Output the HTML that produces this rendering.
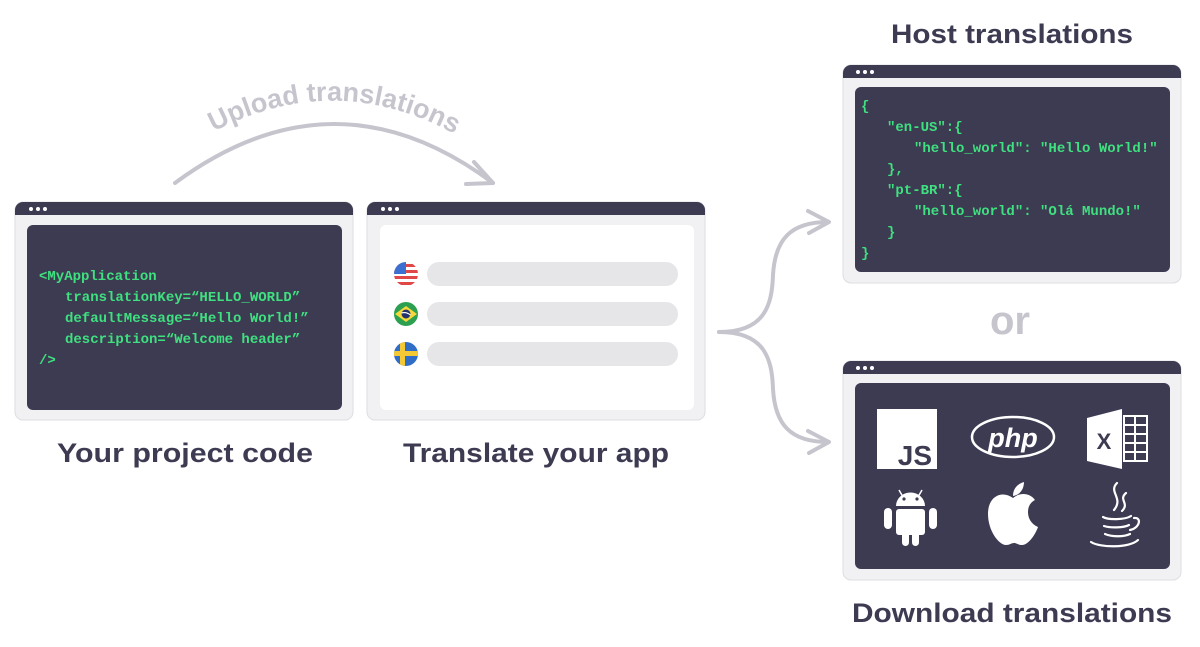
<!DOCTYPE html>
<html><head><meta charset="utf-8"><style>
html,body{margin:0;padding:0;background:#fff;}
svg{display:block;}
.t{font-family:"Liberation Sans",sans-serif;font-weight:bold;fill:#3d3b52;}
.c{font-family:"Liberation Mono","DejaVu Sans Mono",monospace;font-weight:bold;fill:#3ee07f;font-size:14px;}
</style></head><body>
<svg width="1200" height="647" viewBox="0 0 1200 647">
<defs>
<path id="up" d="M190,145 Q335,55 478,148"/>
<clipPath id="c1"><circle cx="406" cy="274" r="12"/></clipPath>
<clipPath id="c3"><circle cx="406" cy="354" r="12"/></clipPath>
</defs>
<text class="t" x="1012" y="43" font-size="27" text-anchor="middle" textLength="242" lengthAdjust="spacingAndGlyphs">Host translations</text>
<text class="t" x="185" y="462" font-size="27" text-anchor="middle" textLength="256" lengthAdjust="spacingAndGlyphs">Your project code</text>
<text class="t" x="536" y="462" font-size="27" text-anchor="middle" textLength="266" lengthAdjust="spacingAndGlyphs">Translate your app</text>
<text class="t" x="1012" y="622" font-size="27" text-anchor="middle" textLength="320" lengthAdjust="spacingAndGlyphs">Download translations</text>
<text x="1010" y="334" font-size="40" font-family="Liberation Sans,sans-serif" font-weight="bold" fill="#c6c5ce" text-anchor="middle">or</text>

<path d="M175,183 Q335,65 493,183" fill="none" stroke="#c6c5ce" stroke-width="4" stroke-linecap="round"/>
<path d="M474,162 L493,183 L466,184" fill="none" stroke="#c6c5ce" stroke-width="4" stroke-linecap="round" stroke-linejoin="round"/>
<text font-family="Liberation Sans,sans-serif" font-weight="bold" font-size="27" fill="#c6c5ce"><textPath href="#up" startOffset="50%" text-anchor="middle">Upload translations</textPath></text>

<path d="M719,332 C765,332 772,305 773,275 C775,240 790,222 828,222" fill="none" stroke="#c6c5ce" stroke-width="4" stroke-linecap="round"/>
<path d="M719,332 C765,332 772,359 773,389 C775,424 790,442 828,442" fill="none" stroke="#c6c5ce" stroke-width="4" stroke-linecap="round"/>
<path d="M808,211 L829,222 L809,233" fill="none" stroke="#c6c5ce" stroke-width="4" stroke-linecap="round" stroke-linejoin="round"/>
<path d="M808,431 L829,442 L809,453" fill="none" stroke="#c6c5ce" stroke-width="4" stroke-linecap="round" stroke-linejoin="round"/>

<g>
<rect x="15" y="202" width="338" height="218" rx="8" fill="#f1f1f3" stroke="#dedee2"/>
<path d="M15,215 V210 a8,8 0 0 1 8,-8 H345 a8,8 0 0 1 8,8 V215 Z" fill="#3d3b52"/>
<circle cx="31" cy="209" r="2" fill="#fff"/><circle cx="38" cy="209" r="2" fill="#fff"/><circle cx="45" cy="209" r="2" fill="#fff"/>
<rect x="27" y="225" width="315" height="185" rx="6" fill="#3d3b52"/>
<text class="c" x="39" y="280">&lt;MyApplication</text>
<text class="c" x="65" y="301">translationKey=“HELLO_WORLD”</text>
<text class="c" x="65" y="322">defaultMessage=“Hello World!”</text>
<text class="c" x="65" y="343">description=“Welcome header”</text>
<text class="c" x="39" y="364">/&gt;</text>
</g>

<g>
<rect x="367" y="202" width="338" height="218" rx="8" fill="#f1f1f3" stroke="#dedee2"/>
<path d="M367,215 V210 a8,8 0 0 1 8,-8 H697 a8,8 0 0 1 8,8 V215 Z" fill="#3d3b52"/>
<circle cx="383" cy="209" r="2" fill="#fff"/><circle cx="390" cy="209" r="2" fill="#fff"/><circle cx="397" cy="209" r="2" fill="#fff"/>
<rect x="380" y="225" width="314" height="185" rx="6" fill="#fff"/>
<rect x="427" y="262" width="251" height="24" rx="12" fill="#e6e6e9"/>
<rect x="427" y="302" width="251" height="24" rx="12" fill="#e6e6e9"/>
<rect x="427" y="342" width="251" height="24" rx="12" fill="#e6e6e9"/>
<g clip-path="url(#c1)">
<rect x="394" y="262" width="24" height="24" fill="#fff"/>
<rect x="394" y="264" width="24" height="3" fill="#e04848"/>
<rect x="394" y="270" width="24" height="3" fill="#e04848"/>
<rect x="394" y="276" width="24" height="3" fill="#e04848"/>
<rect x="394" y="282" width="24" height="3" fill="#e04848"/>
<rect x="394" y="262" width="12" height="12" fill="#3b6fd0"/>
</g>
<circle cx="406" cy="314" r="12" fill="#2ca050"/>
<path d="M395,314 L406,306 L417,314 L406,322 Z" fill="#f6d83a"/>
<circle cx="406" cy="314" r="4.5" fill="#23336b"/>
<path d="M401.5,313 Q406,311.5 410.5,315" stroke="#fff" stroke-width="1.2" fill="none"/>
<g clip-path="url(#c3)">
<rect x="394" y="342" width="24" height="24" fill="#2f6dc6"/>
<rect x="394" y="351" width="24" height="5" fill="#f5c936"/>
<rect x="400" y="342" width="5" height="24" fill="#f5c936"/>
</g>
</g>

<g>
<rect x="843" y="65" width="338" height="218" rx="8" fill="#f1f1f3" stroke="#dedee2"/>
<path d="M843,78 V73 a8,8 0 0 1 8,-8 H1173 a8,8 0 0 1 8,8 V78 Z" fill="#3d3b52"/>
<circle cx="858" cy="72" r="2" fill="#fff"/><circle cx="865" cy="72" r="2" fill="#fff"/><circle cx="872" cy="72" r="2" fill="#fff"/>
<rect x="855" y="87" width="315" height="185" rx="6" fill="#3d3b52"/>
<text class="c" x="861" y="110">{</text>
<text class="c" x="887" y="131">"en-US":{</text>
<text class="c" x="914" y="152">"hello_world": "Hello World!"</text>
<text class="c" x="887" y="173">},</text>
<text class="c" x="887" y="194">"pt-BR":{</text>
<text class="c" x="914" y="215">"hello_world": "Olá Mundo!"</text>
<text class="c" x="887" y="236">}</text>
<text class="c" x="861" y="257">}</text>
</g>

<g>
<rect x="843" y="361" width="338" height="219" rx="8" fill="#f1f1f3" stroke="#dedee2"/>
<path d="M843,374 V369 a8,8 0 0 1 8,-8 H1173 a8,8 0 0 1 8,8 V374 Z" fill="#3d3b52"/>
<circle cx="858" cy="368" r="2" fill="#fff"/><circle cx="865" cy="368" r="2" fill="#fff"/><circle cx="872" cy="368" r="2" fill="#fff"/>
<rect x="855" y="383" width="315" height="186" rx="6" fill="#3d3b52"/>
<rect x="877" y="409" width="60" height="60" fill="#fff"/>
<text x="932" y="465" font-family="Liberation Sans,sans-serif" font-weight="bold" font-size="28" fill="#3d3b52" text-anchor="end">JS</text>
<ellipse cx="1013" cy="437" rx="41" ry="20" fill="none" stroke="#fff" stroke-width="2.5"/>
<text x="1013" y="447" font-family="Liberation Sans,sans-serif" font-weight="bold" font-style="italic" font-size="27" fill="#fff" text-anchor="middle">php</text>
<path d="M1087,418 L1122,409 V469 L1087,461 Z" fill="#fff"/>
<rect x="1124" y="416" width="23" height="45" fill="none" stroke="#fff" stroke-width="2"/>
<path d="M1124,425 H1147 M1124,434 H1147 M1124,443 H1147 M1124,452 H1147 M1135,416 V461" stroke="#fff" stroke-width="2"/>
<text x="1104" y="449" font-family="Liberation Sans,sans-serif" font-weight="bold" font-size="22" fill="#3d3b52" text-anchor="middle">X</text>
<g fill="#fff">
<path d="M896,506 a14,13 0 0 1 29,0 Z"/>
<line x1="899" y1="490" x2="903" y2="497" stroke="#fff" stroke-width="1.5"/>
<line x1="922" y1="490" x2="918" y2="497" stroke="#fff" stroke-width="1.5"/>
<rect x="896" y="509" width="29" height="26" rx="3"/>
<rect x="884" y="508" width="8" height="21" rx="4"/>
<rect x="929" y="508" width="8" height="21" rx="4"/>
<rect x="902" y="530" width="7" height="16" rx="3.5"/>
<rect x="912" y="530" width="7" height="16" rx="3.5"/>
</g>
<circle cx="904" cy="499" r="1.6" fill="#3d3b52"/><circle cx="917" cy="499" r="1.6" fill="#3d3b52"/>
<path d="M1013,498 C1002,490 988,496 988,514 C988,531 999,545 1006,545 C1010,545 1011,543 1014,543 C1017,543 1018,545 1022,545 C1029,545 1036,533 1038,527 C1031,524 1028,518 1028,512 C1028,506 1031,502 1035,500 C1030,493 1020,492 1013,498 Z" fill="#fff"/>
<path d="M1013,496 C1013,489 1017,484 1024,482 C1024,489 1020,495 1013,496 Z" fill="#fff"/>
<g fill="none" stroke="#fff" stroke-width="2.2" stroke-linecap="round">
<path d="M1117,483 C1108,492 1124,498 1114,510"/>
<path d="M1126,493 C1118,500 1130,503 1122,511"/>
<path d="M1103,517 C1108,520 1125,520 1131,516"/>
<path d="M1104,526 C1110,528 1124,528 1129,525"/>
<path d="M1134,518 C1142,517 1140,528 1130,530"/>
<path d="M1105,534 C1112,537 1124,537 1130,534"/>
<path d="M1091,542 C1100,548 1130,548 1138,540"/>
</g>
</g>
</svg>
</body></html>
